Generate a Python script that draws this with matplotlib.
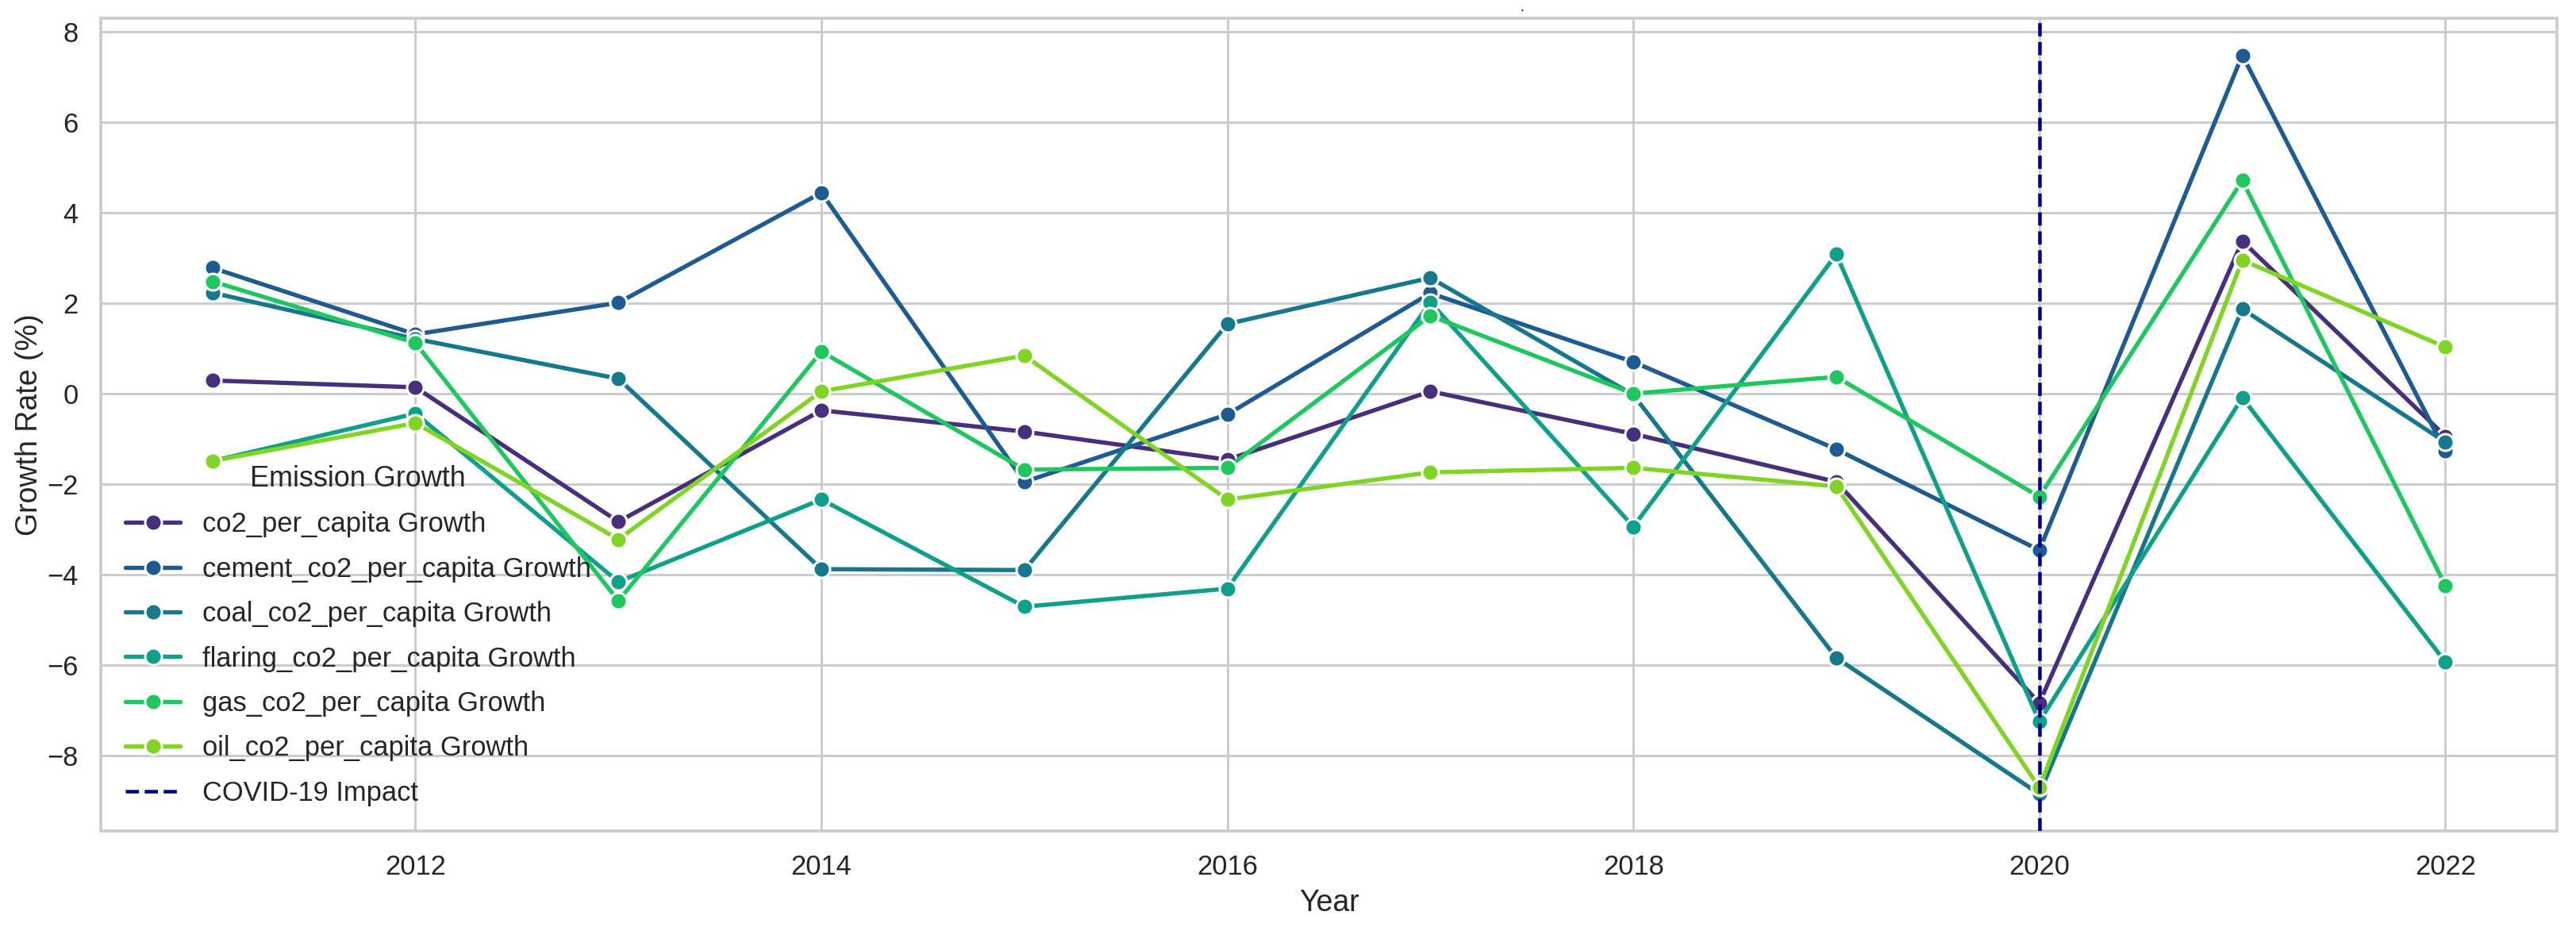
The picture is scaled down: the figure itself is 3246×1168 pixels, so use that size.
import matplotlib
matplotlib.use("Agg")
import matplotlib.pyplot as plt
import seaborn as sns

years = [2011, 2012, 2013, 2014, 2015, 2016, 2017, 2018, 2019, 2020, 2021, 2022]
co2_growth = [0.29, 0.14, -2.83, -0.37, -0.84, -1.46, 0.05, -0.89, -1.95, -6.84, 3.37, -0.94]
cement_growth = [2.78, 1.31, 2.01, 4.44, -1.95, -0.46, 2.22, 0.70, -1.23, -3.46, 7.48, -1.27]
coal_growth = [2.23, 1.21, 0.33, -3.88, -3.90, 1.54, 2.56, -0.03, -5.84, -8.85, 1.87, -1.07]
flaring_growth = [-1.49, -0.44, -4.16, -2.34, -4.71, -4.31, 2.02, -2.94, 3.08, -7.25, -0.09, -5.93]
gas_growth = [2.48, 1.12, -4.58, 0.93, -1.68, -1.64, 1.72, 0.00, 0.37, -2.28, 4.71, -4.24]
oil_growth = [-1.49, -0.65, -3.22, 0.05, 0.84, -2.34, -1.74, -1.64, -2.05, -8.71, 2.95, 1.03]

series_labels = ["co2_per_capita Growth", "cement_co2_per_capita Growth",
                 "coal_co2_per_capita Growth", "flaring_co2_per_capita Growth",
                 "gas_co2_per_capita Growth", "oil_co2_per_capita Growth"]
series_values = [co2_growth, cement_growth, coal_growth, flaring_growth, gas_growth, oil_growth]
colors = ["#472f7d", "#1f5b93", "#15788c", "#0fa08a", "#1ec760", "#80d424"]

covid_year = 2020

sns.set_theme(style="whitegrid")
plt.rcParams['font.family'] = ['Liberation Sans', 'DejaVu Sans']

DPI = 216
fig = plt.figure(figsize=(3246 / DPI, 1168 / DPI), dpi=DPI)
ax = fig.add_axes([127 / 3246, 1 - 1047 / 1168, (3222 - 127) / 3246, (1047 - 23) / 1168])

for lab, vals, col in zip(series_labels, series_values, colors):
    ax.plot(years, vals, marker="o", color=col, label=lab, linewidth=1.8,
            markersize=7, markeredgecolor="white", markeredgewidth=1.0)

ax.axvline(covid_year, color="darkblue", linestyle="--", linewidth=1.5, label="COVID-19 Impact", zorder=5)

ax.set_xlabel("Year", fontsize=12.5, color=".15")
ax.set_ylabel("Growth Rate (%)", fontsize=12.5, color=".15", labelpad=1.5)
ax.tick_params(axis="both", labelsize=11.5, colors=".15")

leg = ax.legend(title="Emission Growth", loc="lower left", fontsize=11.5,
                title_fontsize=12, frameon=False, labelspacing=0.68)

fig.text(1918 / 3246, 1 - 9 / 1168, ".", fontsize=6, color="black", ha="center", va="center")

fig.savefig("out.png", dpi=DPI)
